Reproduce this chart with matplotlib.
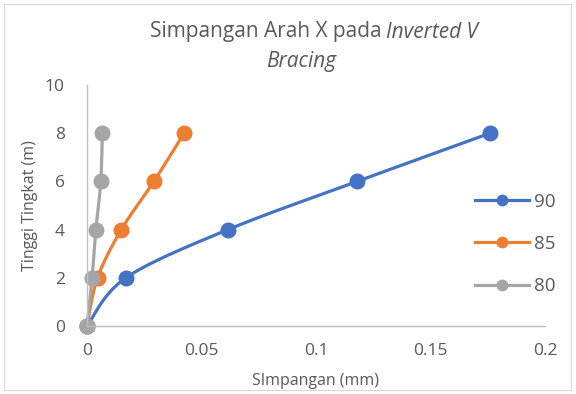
import matplotlib.pyplot as plt
import numpy as np
from matplotlib.patches import Rectangle

# datos
tinggi = [0, 2, 4, 6, 8]
simp_90 = [0, 0.017, 0.0616, 0.118, 0.176]
simp_85 = [0, 0.0046, 0.0150, 0.0292, 0.0424]
simp_80 = [0, 0.0022, 0.0039, 0.0060, 0.0067]
series = ['90', '85', '80']
colores = ['#4472C4', '#ED7D31', '#A5A5A5']
x_ticks = [0, 0.05, 0.1, 0.15, 0.2]
x_labels = ['0', '0.05', '0.1', '0.15', '0.2']
y_ticks = [0, 2, 4, 6, 8, 10]

gris = '#595959'
plt.rcParams['font.family'] = ['Open Sans', 'DejaVu Sans']


def suavizar(x, y, n=30):
    # curva tipo Catmull-Rom como el suavizado de Excel
    p = np.column_stack([x, y]).astype(float)
    p = np.vstack([p[0], p, p[-1]])
    xs, ys = [], []
    t = np.linspace(0, 1, n)
    for i in range(1, len(p) - 2):
        p0, p1, p2, p3 = p[i - 1], p[i], p[i + 1], p[i + 2]
        c1 = p1 + (p2 - p0) / 6
        c2 = p2 - (p3 - p1) / 6
        b = ((1 - t) ** 3)[:, None] * p1 + (3 * (1 - t) ** 2 * t)[:, None] * c1 \
            + (3 * (1 - t) * t ** 2)[:, None] * c2 + (t ** 3)[:, None] * p2
        xs.extend(b[:, 0])
        ys.extend(b[:, 1])
    return xs, ys


fig = plt.figure(figsize=(5.76, 3.94), dpi=100)
ax = fig.add_axes([87 / 576, 68 / 394, 458 / 576, 241 / 394])

fig.patches.append(Rectangle((4 / 576, 4 / 394), 567 / 576, 386 / 394, transform=fig.transFigure,
                             fill=False, edgecolor='#D9D9D9', linewidth=0.8))

datos = [simp_90, simp_85, simp_80]
for nombre, xs, c in zip(series, datos, colores):
    sx, sy = suavizar(xs, tinggi)
    ax.plot(sx, sy, color=c, linewidth=2.3, solid_capstyle='round')
    ax.plot(xs, tinggi, linestyle='none', marker='o', markersize=10.5, color=c)
    ax.plot([], [], color=c, linewidth=2.3, marker='o', markersize=7.5, label=nombre)

ax.set_xlim(0, 0.2)
ax.set_ylim(0, 10)
ax.set_xticks(x_ticks)
ax.set_xticklabels(x_labels)
ax.set_yticks(y_ticks)
ax.tick_params(length=0, labelsize=12.5, labelcolor=gris)
ax.tick_params(axis='x', pad=12)
ax.tick_params(axis='y', pad=16)
for lado in ['top', 'right']:
    ax.spines[lado].set_visible(False)
for lado in ['left', 'bottom']:
    ax.spines[lado].set_color('#BFBFBF')
    ax.spines[lado].set_linewidth(1)
for art in ax.lines:
    art.set_clip_on(False)

ax.set_xlabel('SImpangan (mm)', fontsize=11.5, color=gris, labelpad=10)
ax.set_ylabel('Tinggi Tingkat (m)', fontsize=11.5, color=gris, labelpad=5)

leg = ax.legend(loc='center left', bbox_to_anchor=(458 / 576, 1 - 244 / 394), bbox_transform=fig.transFigure,
                frameon=False, fontsize=13.5, handlelength=2.9, labelspacing=1.3, handletextpad=0.25)
for t in leg.get_texts():
    t.set_color(gris)

# titulo con partes en cursiva
r = fig.canvas.get_renderer()
t1 = fig.text(0, 1 - 32 / 394, 'Simpangan Arah X pada ', fontsize=15, color=gris, va='center', ha='left')
t2 = fig.text(0, 1 - 32 / 394, 'Inverted V', fontsize=15, color=gris, va='center', ha='left', style='italic')
w1 = t1.get_window_extent(r).width
w2 = t2.get_window_extent(r).width
x0 = 314 - (w1 + w2) / 2
t1.set_x(x0 / 576)
t2.set_x((x0 + w1) / 576)
fig.text(301 / 576, 1 - 61 / 394, 'Bracing', fontsize=15, color=gris, va='center', ha='center', style='italic')

fig.savefig('out.png', dpi=100)
